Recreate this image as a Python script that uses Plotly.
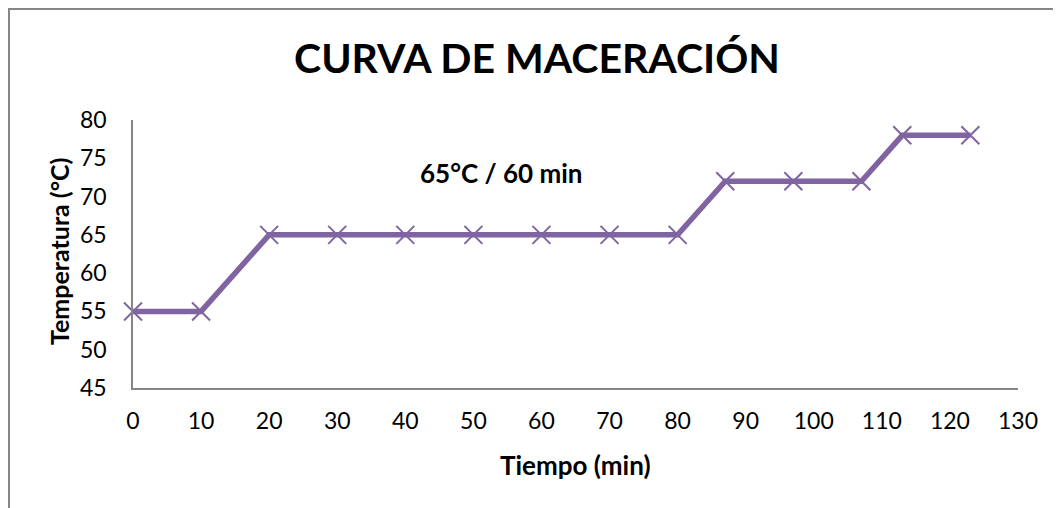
import plotly.graph_objects as go

tiempo = [0, 10, 20, 30, 40, 50, 60, 70, 80, 87, 97, 107, 113, 123]
temperatura = [55, 55, 65, 65, 65, 65, 65, 65, 65, 72, 72, 72, 78, 78]
x_ticks = list(range(0, 131, 10))
y_ticks = list(range(45, 81, 5))

FONT = "Lato"
PURPLE = "#8064A2"
GRAY = "#868686"

L, T, W, H = 125, 112, 885, 268

fig = go.Figure()
fig.add_trace(go.Scatter(
    x=tiempo, y=temperatura, mode="lines+markers",
    line=dict(color=PURPLE, width=5.5),
    marker=dict(symbol="x-thin", size=18, line=dict(color=PURPLE, width=2)),
    showlegend=False, cliponaxis=False,
))

fig.update_layout(
    width=1061, height=508,
    margin=dict(l=L, r=1061 - L - W, t=T, b=508 - T - H),
    paper_bgcolor="white", plot_bgcolor="white",
    font=dict(family=FONT, size=23, color="black"),
    title=dict(text="<b>CURVA DE MACERACIÓN</b>", x=529 / 1061, xanchor="center",
               y=1 - 51 / 508, yanchor="middle", yref="container",
               font=dict(size=41, family=FONT, color="black")),
    xaxis=dict(range=[0, 130], tickvals=x_ticks, showgrid=False, zeroline=False,
               showline=True, linecolor=GRAY, linewidth=1.5,
               ticks="outside", ticklen=12, tickcolor="rgba(0,0,0,0)",
               tickfont=dict(size=23)),
    yaxis=dict(range=[45, 80], tickvals=y_ticks, showgrid=False, zeroline=False,
               showline=True, linecolor=GRAY, linewidth=1.5,
               ticks="outside", ticklen=20, tickcolor="rgba(0,0,0,0)",
               tickfont=dict(size=23)),
    annotations=[
        dict(text="<b>65°C / 60 min</b>", x=54, y=73.1, xref="x", yref="y",
             showarrow=False, font=dict(size=26, family=FONT)),
        dict(text="<b>Tiempo (min)</b>", x=(575 - 133) / W, y=-(465 - 388) / H,
             xref="paper", yref="paper", showarrow=False, yanchor="middle",
             font=dict(size=26, family=FONT)),
        dict(text="<b>Temperatura (°C)</b>", x=-(133 - 59) / W, y=(388 - 252) / H,
             xref="paper", yref="paper", showarrow=False, textangle=-90,
             xanchor="center", yanchor="middle", font=dict(size=25, family=FONT)),
    ],
    shapes=[
        dict(type="rect", xref="paper", yref="paper",
             x0=-(L - 1) / W, x1=(1061 - L + 20) / W,
             y0=-(508 - T - H + 20) / H, y1=1 + (T - 1) / H,
             line=dict(color=GRAY, width=2), fillcolor="rgba(0,0,0,0)", layer="below"),
    ],
)

fig.write_html("out.html")
